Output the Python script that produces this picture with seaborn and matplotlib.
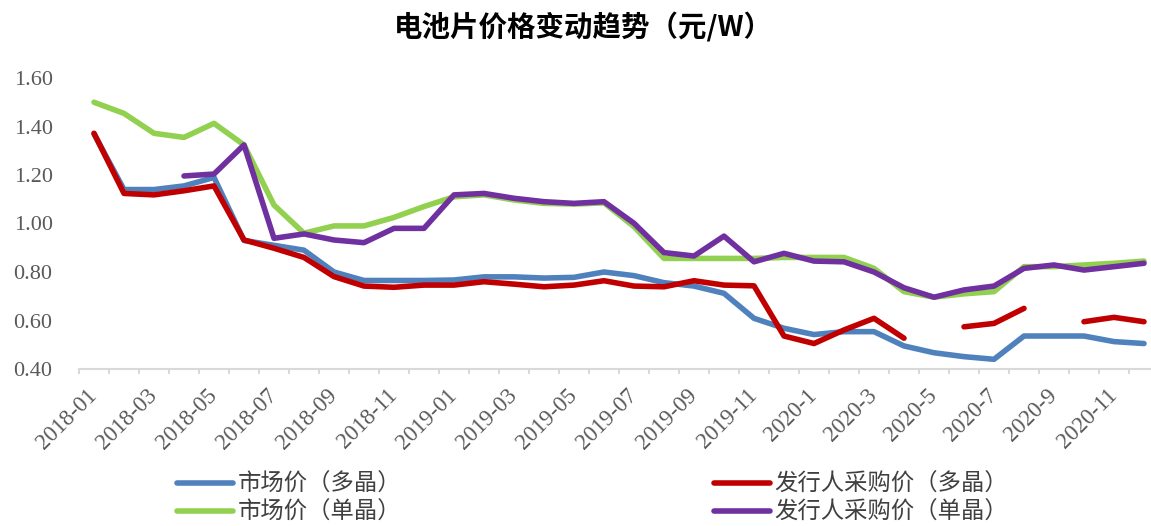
import numpy as np
import pandas as pd
import matplotlib
matplotlib.use("Agg")
import matplotlib.pyplot as plt
import seaborn as sns

months = ([f"2018-{m:02d}" for m in range(1, 13)] +
          [f"2019-{m:02d}" for m in range(1, 13)] +
          [f"2020-{m}" for m in range(1, 13)])

series_names = ["市场价（多晶）", "市场价（单晶）", "发行人采购价（多晶）", "发行人采购价（单晶）"]
series_colors = ["#4F81BD", "#92D050", "#C00000", "#7030A0"]

market_poly = [1.37, 1.14, 1.14, 1.155, 1.19, 0.93, 0.91, 0.89, 0.80, 0.765, 0.765, 0.765,
               0.767, 0.78, 0.78, 0.775, 0.778, 0.80, 0.785, 0.756, 0.742, 0.712, 0.609, 0.568,
               0.542, 0.554, 0.554, 0.495, 0.467, 0.451, 0.44, 0.536, 0.536, 0.536, 0.513, 0.505]
market_mono = [1.50, 1.454, 1.372, 1.355, 1.413, 1.324, 1.076, 0.96, 0.99, 0.99, 1.025, 1.07,
               1.11, 1.118, 1.097, 1.083, 1.08, 1.085, 0.987, 0.856, 0.856, 0.856, 0.856, 0.86,
               0.86, 0.86, 0.815, 0.719, 0.696, 0.71, 0.719, 0.822, 0.822, 0.829, 0.836, 0.845]
issuer_poly = [1.372, 1.124, 1.118, 1.135, 1.155, 0.932, 0.898, 0.86, 0.781, 0.742, 0.737, 0.746,
               0.746, 0.76, 0.75, 0.739, 0.746, 0.764, 0.742, 0.739, 0.764, 0.746, 0.743, 0.536,
               0.505, 0.561, 0.609, 0.527, np.nan, 0.574, 0.588, 0.65, np.nan, 0.595, 0.613, 0.595]
issuer_mono = [np.nan, np.nan, np.nan, 1.196, 1.204, 1.324, 0.939, 0.957, 0.932, 0.921, 0.98, 0.98,
               1.118, 1.124, 1.104, 1.09, 1.083, 1.09, 1.001, 0.88, 0.866, 0.948, 0.842, 0.877,
               0.845, 0.842, 0.80, 0.735, 0.696, 0.726, 0.742, 0.815, 0.829, 0.808, 0.822, 0.836]

yticks = [0.40, 0.60, 0.80, 1.00, 1.20, 1.40, 1.60]

# Long-form table; 'seg' splits each series at missing months so gaps stay open
rows = []
for name, vals in zip(series_names, [market_poly, market_mono, issuer_poly, issuer_mono]):
    seg = 0
    for i, v in enumerate(vals):
        if np.isnan(v):
            seg += 1
            continue
        rows.append({"idx": i, "price": v, "series": name, "seg": f"{name}-{seg}"})
df = pd.DataFrame(rows)

sns.set_theme(style="white")
plt.rcParams["font.family"] = ["Noto Sans CJK SC", "DejaVu Sans"]

W, H = 1151, 526
fig = plt.figure(figsize=(W / 100, H / 100), dpi=100)
ax = fig.add_axes([79 / W, (H - 369) / H, (1159 - 79) / W, (369 - 78) / H])

sns.lineplot(data=df, x="idx", y="price", hue="series", units="seg", estimator=None,
             hue_order=series_names, palette=dict(zip(series_names, series_colors)),
             linewidth=4.0, solid_capstyle="round", solid_joinstyle="round",
             ax=ax, legend="auto")

ax.set_xlim(-0.5, 35.5)
ax.set_ylim(0.4, 1.6)
ax.set_xlabel("")
ax.set_ylabel("")
for s in ["left", "right", "top"]:
    ax.spines[s].set_visible(False)
ax.spines["bottom"].set_color("#D9D9D9")
ax.spines["bottom"].set_linewidth(1.5)

ax.set_yticks(yticks)
ax.set_yticklabels([f"{t:.2f}" for t in yticks], fontfamily="Liberation Serif",
                   fontsize=16, color="#595959")
ax.tick_params(axis="y", length=0, pad=19)

ax.set_xticks(range(0, 36, 2))
ax.set_xticklabels(months[::2], fontfamily="Liberation Serif", fontsize=16.5,
                   color="#595959", rotation=45, ha="right", va="center",
                   rotation_mode="anchor")
ax.set_xticks(np.arange(-0.5, 36, 1), minor=True)
ax.tick_params(axis="x", which="major", length=0, pad=17)
ax.tick_params(axis="x", which="minor", length=3.6, width=1.5, color="#D9D9D9",
               direction="out", bottom=True)

fig.text(583 / W, 1 - 27 / H, "电池片价格变动趋势（元/W）", ha="center", va="center",
         fontsize=20.5, fontweight="bold", color="#000000",
         family=["Noto Sans CJK SC", "DejaVu Sans"])

sns.move_legend(ax, "upper left", bbox_to_anchor=(177 / W, 1 - 473 / H),
                bbox_transform=fig.transFigure, ncol=2, title=None, frameon=False,
                fontsize=16.8, handlelength=2.4, handletextpad=0.2, columnspacing=13.4,
                labelspacing=0.22, borderpad=0, borderaxespad=0)
leg = ax.get_legend()
for t in leg.get_texts():
    t.set_color("#404040")
for h in leg.legend_handles:
    h.set_linewidth(4.0)

fig.savefig("out.png", dpi=100)
